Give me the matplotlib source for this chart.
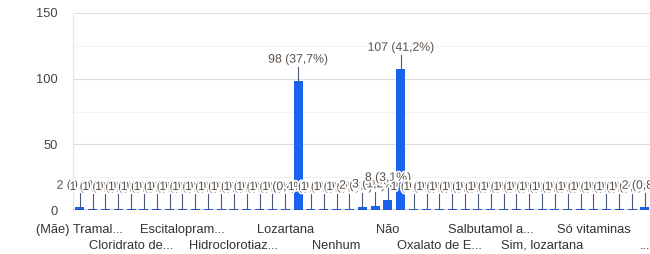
import matplotlib.pyplot as plt
import matplotlib.patheffects as pe

# answer counts, one per bar (left to right, chart is cut off at the right)
counts = [2, 1, 1, 1, 1, 1, 1, 1, 1, 1, 1, 1, 1, 1, 1, 1, 1, 98,
          1, 1, 1, 1, 2, 3, 8, 107,
          1, 1, 1, 1, 1, 1, 1, 1, 1, 1, 1, 1, 1, 1, 1, 1, 1, 1, 2]

# only every 4th category gets a label on the x axis
shown_labels = ['(Mãe) Tramal...', 'Cloridrato de...', 'Escitalopram...',
                'Hidroclorotiaz...', 'Lozartana', 'Nenhum', 'Não',
                'Oxalato de E...', 'Salbutamol a...', 'Sim, lozartana',
                'Só vitaminas', '...']

yticks = [0, 50, 100, 150]

plt.rcParams['font.family'] = ['Liberation Sans', 'DejaVu Sans']

fig = plt.figure(figsize=(6.5, 2.54), dpi=100)
ax = fig.add_axes([0.112, 0.173, 0.888, 0.776])

total = sum(counts)
x = list(range(len(counts)))
ax.bar(x, counts, width=0.7, color='#1a62f0', zorder=3)

# data labels with leader lines
for i, v in enumerate(counts):
    pct = f'{v / total * 100:.1f}'.replace('.', ',')
    ax.plot([i, i], [v, v + 11], color='#4a5a78', lw=0.8, zorder=4)
    ax.text(i, v + 16.5, f'{v} ({pct}%)', ha='center', va='center',
            fontsize=8.8, color='#5a5048', zorder=5,
            path_effects=[pe.withStroke(linewidth=2.5, foreground='white')])

# gridlines
for g in [25, 75, 125]:
    ax.axhline(g, color='#f2f2f2', lw=0.8, zorder=1)
for g in [50, 100, 150]:
    ax.axhline(g, color='#dddddd', lw=0.8, zorder=1)
ax.axhline(0, color='#333333', lw=1, zorder=6)

ax.set_ylim(0, 150)
ax.set_xlim(-0.54, 44.4)
ax.set_yticks(yticks)
ax.set_yticklabels([str(t) for t in yticks], fontsize=9.3, color='#444444')

pos = list(range(0, len(counts), 4))
labs = [lab if k % 2 == 0 else '\n' + lab for k, lab in enumerate(shown_labels)]
ax.set_xticks(pos)
ax.set_xticklabels(labs, fontsize=9.3, color='#333333', linespacing=1.45)
ax.tick_params(length=0, pad=10)
ax.tick_params(axis='y', pad=11)

for s in ['top', 'right', 'bottom']:
    ax.spines[s].set_visible(False)
ax.spines['left'].set_color('#e6e6e6')

fig.savefig('out.png', dpi=100)
